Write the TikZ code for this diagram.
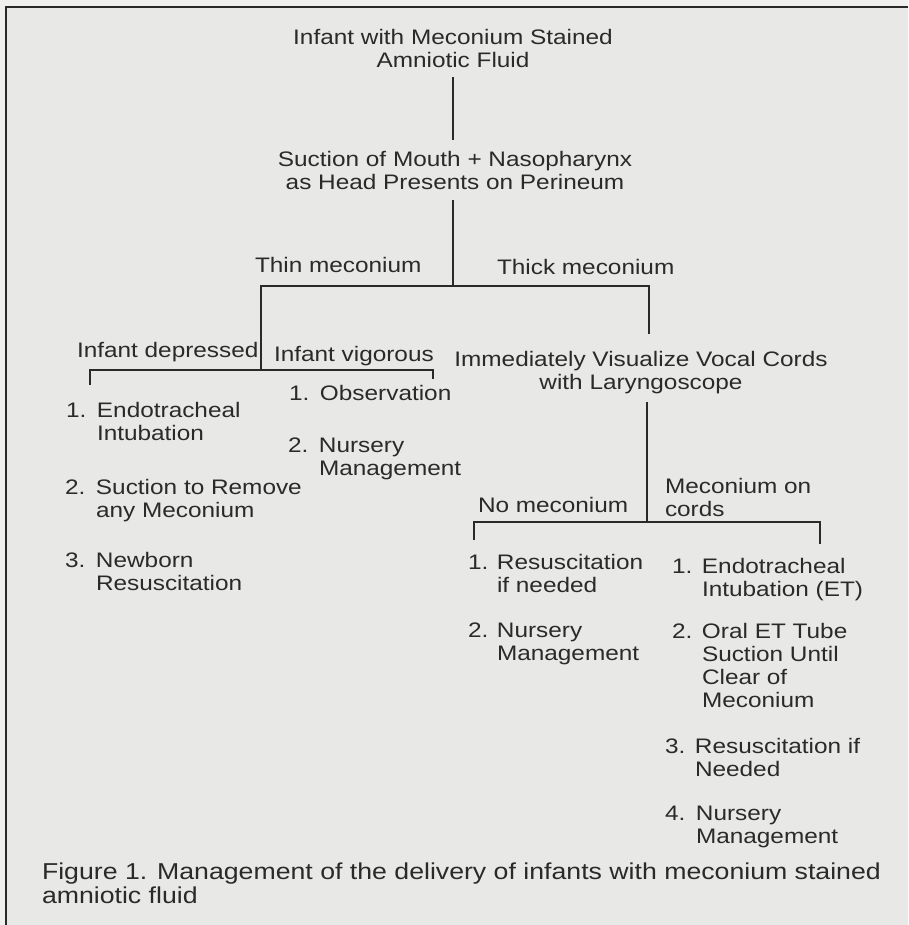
\documentclass[tikz,border=0pt]{standalone}
\usepackage{fontspec}
\setmainfont{Liberation Sans}[FakeStretch=1.16]
\definecolor{ink}{HTML}{2A2A2A}
\definecolor{pagebg}{HTML}{F0F0EE}
\definecolor{boxbg}{HTML}{E8E8E6}
\newcommand\dgbody{\fontsize{21}{23}\selectfont}
\newcommand\dgcap{\fontsize{23}{24}\selectfont}
\newcommand\ctr[1]{\begin{tabular}[t]{@{}c@{}}#1\end{tabular}}
\newcommand\lft[1]{\begin{tabular}[t]{@{}l@{}}#1\end{tabular}}
\newcommand\lst[2]{\begin{tabular}[t]{@{}p{#1}@{}l@{}}#2\end{tabular}}
\begin{document}
\begin{tikzpicture}[x=1pt,y=-1pt,
  every node/.style={inner sep=0pt,outer sep=0pt,text=ink,font=\dgbody},
  txt/.style={anchor=base},
  txtw/.style={anchor=base west},
  ln/.style={draw=ink,line width=2.8pt,line join=miter}]
\useasboundingbox (0,0) rectangle (908,925);
\fill[pagebg] (0,0) rectangle (908,925);
\fill[boxbg] (6,7) rectangle (908,925);
\draw[ink,line width=2.6pt] (6,925) -- (6,7) -- (908,7);

% text nodes
\node[txt] (title) at (453,45) {\ctr{Infant with Meconium Stained\\Amniotic Fluid}};
\node[txt] (suct) at (455,167) {\ctr{Suction of Mouth + Nasopharynx\\as Head Presents on Perineum}};
\node[txtw] (thin) at (255,272) {Thin meconium};
\node[txtw] (thick) at (497,274) {Thick meconium};
\node[txtw] (dep) at (77,357) {Infant depressed};
\node[txtw] (vig) at (274,361) {Infant vigorous};
\node[txt] (vis) at (641,366) {\ctr{Immediately Visualize Vocal Cords\\with Laryngoscope}};
\node[txtw] (d1) at (66,417) {\lst{31pt}{1.&Endotracheal\\&Intubation}};
\node[txtw] (d2) at (65,494) {\lst{31pt}{2.&Suction to Remove\\&any Meconium}};
\node[txtw] (d3) at (65,567) {\lst{31pt}{3.&Newborn\\&Resuscitation}};
\node[txtw] (v1) at (289,400) {\lst{31pt}{1.&Observation}};
\node[txtw] (v2) at (288,452) {\lst{31pt}{2.&Nursery\\&Management}};
\node[txtw] (nomec) at (478,512) {No meconium};
\node[txtw] (mecon) at (665,493) {\lft{Meconium on\\cords}};
\node[txtw] (n1) at (468,569) {\lst{29pt}{1.&Resuscitation\\&if needed}};
\node[txtw] (n2) at (468,637) {\lst{29pt}{2.&Nursery\\&Management}};
\node[txtw] (m1) at (672,573) {\lst{30pt}{1.&Endotracheal\\&Intubation (ET)}};
\node[txtw] (m2) at (672,638) {\lst{30pt}{2.&Oral ET Tube\\&Suction Until\\&Clear of\\&Meconium}};
\node[txtw] (m3) at (665,753) {\lst{30pt}{3.&Resuscitation if\\&Needed}};
\node[txtw] (m4) at (665,820) {\lst{31pt}{4.&Nursery\\&Management}};
\node[txtw,font=\dgcap] (cap) at (42,879) {\lft{Figure 1. Management of the delivery of infants with meconium stained\\amniotic fluid}};

% junction and end coordinates
\coordinate (a0) at ([yshift=-2pt]title.south);
\coordinate (a1) at ([yshift=11pt]suct.north -| a0);
\coordinate (b0) at ([yshift=-3pt]suct.south -| a0);
\coordinate (j1) at (453,286);
\coordinate (j1l) at (261,286);
\coordinate (j1r) at (649,286);
\coordinate (t1r) at (649,334);
\coordinate (j2) at (261,370);
\coordinate (j2l) at (90,370);
\coordinate (j2r) at (433,370);
\coordinate (t2l) at (90,385);
\coordinate (t2r) at (433,379);
\coordinate (j3) at (647,522);
\coordinate (c0) at ([yshift=-6pt]vis.south);
\coordinate (j3l) at (474,522);
\coordinate (j3r) at (820,522);
\coordinate (t3l) at (474,540);
\coordinate (t3r) at (820,544);

% connectors
\draw[ln] (a0) -- (a1);
\draw[ln] (b0) -- (j1);
\draw[ln] (t1r) -- (j1r) -- (j1l) -- (j2);
\draw[ln] (t2l) -- (j2l) -- (j2r) -- (t2r);
\draw[ln] (c0 -| j3) -- (j3);
\draw[ln] (t3l) -- (j3l) -- (j3r) -- (t3r);
\end{tikzpicture}
\end{document}
